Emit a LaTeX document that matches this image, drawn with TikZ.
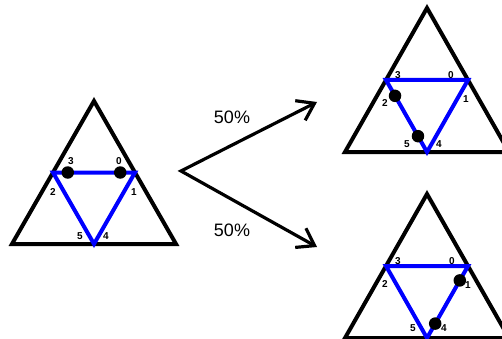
\documentclass[tikz,border=0pt]{standalone}
\usepackage{fontspec}
\setmainfont{Liberation Sans}
\usetikzlibrary{calc,arrows.meta}
\begin{document}
\begin{tikzpicture}[x=1pt,y=-1pt,
 outer/.style={draw=black,line width=4pt,line join=miter},
 inner/.style={draw=blue,line width=4pt,line join=miter},
 dot/.style={circle,fill=black,inner sep=0pt,minimum size=12.5pt},
 lbl/.style={font=\bfseries\fontsize{10}{11}\selectfont,inner sep=0pt},
 pct/.style={font=\fontsize{18}{20}\selectfont,inner sep=0pt},
 arr/.style={line width=3.2pt,line join=miter,{Straight Barb[length=16pt,width=22pt,line width=3.2pt]}-{Straight Barb[length=16pt,width=22pt,line width=3.2pt]}}]
\useasboundingbox (0,0) rectangle (502,339);
% left triangle
\coordinate (LA) at (94,101); \coordinate (LL) at (12,244); \coordinate (LR) at (176,244);
\draw[outer] (LA)--(LL)--(LR)--cycle;
\coordinate (L2) at ($(LA)!0.5!(LL)$);
\coordinate (L1) at ($(LA)!0.5!(LR)$);
\coordinate (L4) at ($(LL)!0.5!(LR)$);
\draw[inner] (L2)--(L1)--(L4)--cycle;
\node[dot] (Ld1) at ($(L2)!0.18!(L1)$) {};
\node[dot] (Ld2) at ($(L2)!0.82!(L1)$) {};
\node[lbl] (Lt3) at (71,161) {3};
\node[lbl] (Lt0) at (119,161) {0};
\node[lbl] (Lt2) at (53,192) {2};
\node[lbl] (Lt1) at (134,192) {1};
\node[lbl] (Lt5) at (80,236) {5};
\node[lbl] (Lt4) at (106,236) {4};
% top right triangle
\coordinate (TA) at (427,8); \coordinate (TL) at (345,152); \coordinate (TR) at (509,152);
\draw[outer] (TA)--(TL)--(TR)--cycle;
\coordinate (T2) at ($(TA)!0.5!(TL)$);
\coordinate (T1) at ($(TA)!0.5!(TR)$);
\coordinate (T4) at ($(TL)!0.5!(TR)$);
\draw[inner] (T2)--(T1)--(T4)--cycle;
\node[dot] (Td1) at ($(T2)!0.22!(T4)$) {};
\node[dot] (Td2) at ($(T2)!0.78!(T4)$) {};
\node[lbl] (Tt3) at (398,75) {3};
\node[lbl] (Tt0) at (451,75) {0};
\node[lbl] (Tt2) at (385,103) {2};
\node[lbl] (Tt1) at (466,99) {1};
\node[lbl] (Tt5) at (407,144) {5};
\node[lbl] (Tt4) at (439,144) {4};
% bottom right triangle
\coordinate (BA) at (427,194); \coordinate (BL) at (345,338); \coordinate (BR) at (509,338);
\draw[outer] (BA)--(BL)--(BR)--cycle;
\coordinate (B2) at ($(BA)!0.5!(BL)$);
\coordinate (B1) at ($(BA)!0.5!(BR)$);
\coordinate (B4) at ($(BL)!0.5!(BR)$);
\draw[inner] (B2)--(B1)--(B4)--cycle;
\node[dot] (Bd1) at ($(B1)!0.2!(B4)$) {};
\node[dot] (Bd2) at ($(B1)!0.8!(B4)$) {};
\node[lbl] (Bt3) at (398,261) {3};
\node[lbl] (Bt0) at (452,261) {0};
\node[lbl] (Bt2) at (385,284) {2};
\node[lbl] (Bt1) at (468,285) {1};
\node[lbl] (Bt5) at (413,328) {5};
\node[lbl] (Bt4) at (444,328) {4};
% arrows
\coordinate (S) at (181,171);
\coordinate (E1) at (317,102);
\coordinate (E2) at (317,247);
\draw[arr] (E1)--(S)--(E2);
\node[pct] (p1) at (232,117) {50\%};
\node[pct] (p2) at (232,230) {50\%};
\end{tikzpicture}
\end{document}
